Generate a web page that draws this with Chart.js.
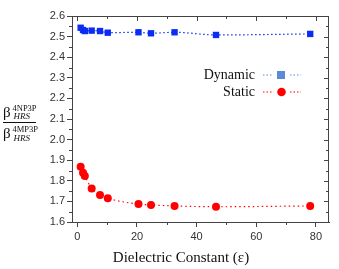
<!DOCTYPE html>
<html>
<head>
<meta charset="utf-8">
<script src="https://cdn.jsdelivr.net/npm/chart.js@4.4.1/dist/chart.umd.min.js"></script>
<style>
  body { margin: 0; background: #fff; }
  #wrap { width: 339px; height: 269px; position: relative; }
</style>
</head>
<body>
<div id="wrap"><canvas id="betaChart"></canvas></div>
<script>
// dielectric constants of the solvents (x)
const epsilon = [1.1, 1.9, 2.5, 4.8, 7.6, 10.2, 20.5, 24.7, 32.6, 46.5, 78.1];
// ratio beta(4NP3P)/beta(4MP3P)
const dynamicRatio = [2.543, 2.532, 2.527, 2.529, 2.527, 2.519, 2.521, 2.516, 2.521, 2.508, 2.513];
const staticRatio = [1.868, 1.839, 1.823, 1.763, 1.731, 1.715, 1.687, 1.683, 1.678, 1.674, 1.678];
const seriesNames = ['Dynamic', 'Static'];
const xTicks = [0, 20, 40, 60, 80];
const yTicks = [1.6, 1.7, 1.8, 1.9, 2.0, 2.1, 2.2, 2.3, 2.4, 2.5, 2.6];

const BLUE = '#0b2cf2';
const RED = '#ff0000';
const AXIS = '#444';

function toPoints(ys) {
    return epsilon.map((x, i) => ({ x: x, y: ys[i] }));
}

// frame, minor/mirrored ticks, axis titles and the legend
const decor = {
    id: 'decor',
    afterDraw(chart) {
        const ctx = chart.ctx;
        const xs = chart.scales.x, ys = chart.scales.y;
        const a = chart.chartArea;
        ctx.save();
        ctx.strokeStyle = AXIS;
        ctx.lineWidth = 1;
        ctx.strokeRect(a.left + 0.5, a.top + 0.5, a.right - a.left - 1, a.bottom - a.top);

        ctx.beginPath();
        // x ticks every 10: outward at bottom (minor), inward at top
        for (let v = 0; v <= 80; v += 10) {
            const px = Math.round(xs.getPixelForValue(v)) + 0.5;
            const major = v % 20 === 0;
            if (!major) { ctx.moveTo(px, a.bottom); ctx.lineTo(px, a.bottom + 3); }
            ctx.moveTo(px, a.top); ctx.lineTo(px, a.top + (major ? 5 : 3));
        }
        // y ticks every 0.05: outward at left (minor), inward at right
        for (let i = 0; i <= 20; i++) {
            const v = 1.6 + i * 0.05;
            const py = Math.round(ys.getPixelForValue(v)) + 0.5;
            const major = i % 2 === 0;
            if (!major) { ctx.moveTo(a.left, py); ctx.lineTo(a.left - 3, py); }
            ctx.moveTo(a.right, py); ctx.lineTo(a.right - (major ? 5 : 3), py);
        }
        ctx.stroke();

        // x title
        ctx.fillStyle = '#111';
        ctx.font = '15px "Liberation Serif"';
        ctx.textAlign = 'center';
        ctx.textBaseline = 'alphabetic';
        ctx.fillText('Dielectric Constant (ε)', 181, 262);

        // y title as a fraction
        ctx.textAlign = 'left';
        ctx.font = '15px "Liberation Serif"';
        ctx.fillText('β', 3, 117);
        ctx.fillText('β', 3, 138);
        ctx.font = '8.5px "Liberation Serif"';
        ctx.fillText('4NP3P', 12.5, 110.5);
        ctx.fillText('4MP3P', 12.5, 131.5);
        ctx.font = 'italic 9px "Liberation Serif"';
        ctx.fillText('HRS', 13.5, 119);
        ctx.fillText('HRS', 13.5, 140.5);
        ctx.beginPath();
        ctx.strokeStyle = '#111';
        ctx.moveTo(3, 122.5); ctx.lineTo(36, 122.5);
        ctx.stroke();

        // legend: text on the left, dotted line + marker on the right
        const rows = [
            { name: seriesNames[0], y: 75, color: '#5b8ad8', shape: 'rect' },
            { name: seriesNames[1], y: 92, color: RED, shape: 'circle' }
        ];
        ctx.font = '14px "Liberation Serif"';
        rows.forEach(r => {
            ctx.fillStyle = '#111';
            ctx.textAlign = 'right';
            ctx.textBaseline = 'middle';
            ctx.fillText(r.name, 255, r.y);
            ctx.strokeStyle = r.shape === 'rect' ? '#5b8ad8' : RED;
            ctx.setLineDash([1.5, 2]);
            ctx.lineWidth = 1.2;
            ctx.beginPath();
            ctx.moveTo(263, r.y); ctx.lineTo(273, r.y);
            ctx.moveTo(290, r.y); ctx.lineTo(301, r.y);
            ctx.stroke();
            ctx.setLineDash([]);
            ctx.fillStyle = r.color;
            if (r.shape === 'rect') {
                ctx.fillRect(277, r.y - 4, 8, 8);
            } else {
                ctx.beginPath();
                ctx.arc(281.5, r.y, 4.3, 0, Math.PI * 2);
                ctx.fill();
            }
        });
        ctx.restore();
    }
};

document.addEventListener('DOMContentLoaded', function() {
    const ctx = document.getElementById('betaChart');
    if (!ctx) {
        console.error('betaChart not found');
        return;
    }
    new Chart(ctx.getContext('2d'), {
        type: 'scatter',
        data: {
            datasets: [{
                label: seriesNames[0],
                data: toPoints(dynamicRatio),
                showLine: true,
                borderColor: BLUE,
                borderWidth: 1.2,
                borderDash: [1.5, 2.5],
                backgroundColor: BLUE,
                pointStyle: 'rect',
                pointRadius: 4.5,
                pointBorderWidth: 0,
                cubicInterpolationMode: 'monotone'
            }, {
                label: seriesNames[1],
                data: toPoints(staticRatio),
                showLine: true,
                borderColor: RED,
                borderWidth: 1.2,
                borderDash: [1.5, 3],
                backgroundColor: RED,
                pointStyle: 'circle',
                pointRadius: 4,
                pointBorderWidth: 0,
                cubicInterpolationMode: 'monotone'
            }]
        },
        options: {
            responsive: true,
            maintainAspectRatio: false,
            animation: false,
            layout: { padding: { top: 16, right: 10, left: 0, bottom: 0 } },
            plugins: {
                legend: { display: false },
                tooltip: { enabled: false }
            },
            scales: {
                x: {
                    type: 'linear',
                    min: -1.8,
                    max: 84.4,
                    afterBuildTicks: s => { s.ticks = xTicks.map(v => ({ value: v })); },
                    afterFit: s => { s.height = 47; },
                    grid: { drawOnChartArea: false, drawTicks: true, tickLength: 5, color: AXIS },
                    border: { display: true, color: AXIS },
                    ticks: {
                        padding: 3,
                        color: '#333',
                        font: { family: '"Liberation Sans"', size: 11 }
                    }
                },
                y: {
                    min: 1.6,
                    max: 2.6,
                    afterBuildTicks: s => { s.ticks = yTicks.map(v => ({ value: v })); },
                    afterFit: s => { s.width = 72; },
                    grid: { drawOnChartArea: false, drawTicks: true, tickLength: 5, color: AXIS },
                    border: { display: true, color: AXIS },
                    ticks: {
                        padding: 2,
                        color: '#333',
                        font: { family: '"Liberation Sans"', size: 11 },
                        callback: v => v.toFixed(1)
                    }
                }
            }
        },
        plugins: [decor]
    });
});
</script>
</body>
</html>
